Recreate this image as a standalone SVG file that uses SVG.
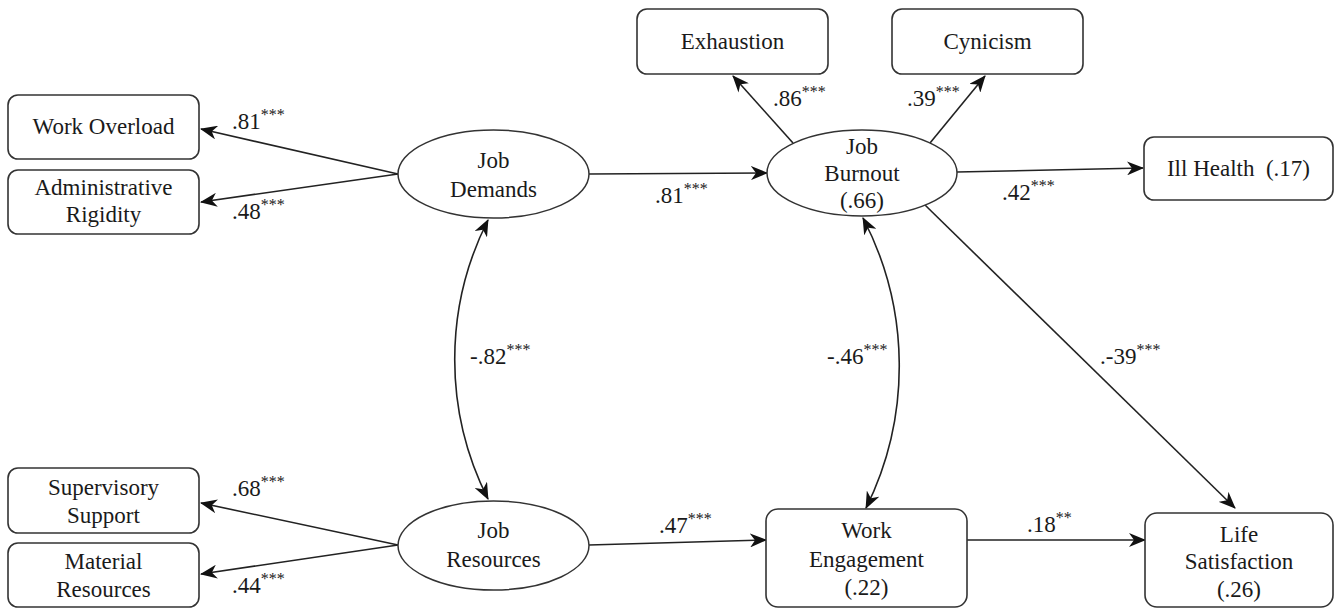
<svg xmlns="http://www.w3.org/2000/svg" width="1336" height="609" viewBox="0 0 1336 609">
<style>
.box{fill:#fff;stroke:#333;stroke-width:1.6}
.ell{fill:#fff;stroke:#333;stroke-width:1.5}
text{font-family:Liberation Serif, Times New Roman, DejaVu Serif, serif;font-size:23px;fill:#1a1a1a}
.t{text-anchor:middle}
.sup{font-size:16px}
.c{fill:none;stroke:#222;stroke-width:1.6;marker-end:url(#ah)}
.cb{fill:none;stroke:#222;stroke-width:1.6;marker-end:url(#ah);marker-start:url(#ah)}
</style>
<defs>
<marker id="ah" viewBox="0 0 17 14" refX="16" refY="7" markerWidth="17" markerHeight="14" markerUnits="userSpaceOnUse" orient="auto-start-reverse">
<path d="M0,0 L17,7 L0,14 L5,7 Z" fill="#111"/>
</marker>
</defs>
<rect width="1336" height="609" fill="#fff"/>
<g id="connectors">
<path class="c" d="M398,174 L201,129"/>
<path class="c" d="M398,174 L201,202"/>
<path class="c" d="M398,545 L201,503"/>
<path class="c" d="M398,545 L201,574"/>
<path class="c" d="M589,174 L767,173"/>
<path class="c" d="M793,143 L733,76"/>
<path class="c" d="M930,143 L985,76"/>
<path class="c" d="M957,172 L1143,168"/>
<path class="c" d="M925,205 L1235,508"/>
<path class="c" d="M589,545 L766,540"/>
<path class="c" d="M967,540 L1145,540"/>
<path class="cb" d="M488,220 A309,309 0 0 0 488,499"/>
<path class="cb" d="M863,218 A320,320 0 0 1 866,508"/>
<text font-family="Liberation Serif" x="232" y="129">.81<tspan class="sup" dy="-9">***</tspan></text>
<text font-family="Liberation Serif" x="232" y="219">.48<tspan class="sup" dy="-9">***</tspan></text>
<text font-family="Liberation Serif" x="232" y="496">.68<tspan class="sup" dy="-9">***</tspan></text>
<text font-family="Liberation Serif" x="232" y="593">.44<tspan class="sup" dy="-9">***</tspan></text>
<text font-family="Liberation Serif" x="655" y="203">.81<tspan class="sup" dy="-9">***</tspan></text>
<text font-family="Liberation Serif" x="773" y="106">.86<tspan class="sup" dy="-9">***</tspan></text>
<text font-family="Liberation Serif" x="907" y="106">.39<tspan class="sup" dy="-9">***</tspan></text>
<text font-family="Liberation Serif" x="1002" y="200">.42<tspan class="sup" dy="-9">***</tspan></text>
<text font-family="Liberation Serif" x="470" y="364">-.82<tspan class="sup" dy="-9">***</tspan></text>
<text font-family="Liberation Serif" x="827" y="364">-.46<tspan class="sup" dy="-9">***</tspan></text>
<text font-family="Liberation Serif" x="1100" y="364">.-39<tspan class="sup" dy="-9">***</tspan></text>
<text font-family="Liberation Serif" x="659" y="533">.47<tspan class="sup" dy="-9">***</tspan></text>
<text font-family="Liberation Serif" x="1027" y="532">.18<tspan class="sup" dy="-9">**</tspan></text>
</g>
<g id="work-overload">
<rect class="box" x="8" y="95" width="191" height="64" rx="10"/>
<text class="t" x="103.5" y="134">Work Overload</text>
</g>
<g id="administrative-rigidity">
<rect class="box" x="8" y="170" width="191" height="64" rx="10"/>
<text class="t" x="103.5" y="195">Administrative</text>
<text class="t" x="103.5" y="222">Rigidity</text>
</g>
<g id="supervisory-support">
<rect class="box" x="8" y="468" width="191" height="65" rx="10"/>
<text class="t" x="103.5" y="495">Supervisory</text>
<text class="t" x="103.5" y="523">Support</text>
</g>
<g id="material-resources">
<rect class="box" x="8" y="543" width="191" height="64" rx="10"/>
<text class="t" x="103.5" y="569">Material</text>
<text class="t" x="103.5" y="597">Resources</text>
</g>
<g id="job-demands">
<ellipse class="ell" cx="493.5" cy="174" rx="95.5" ry="44"/>
<text class="t" x="493.5" y="168">Job</text>
<text class="t" x="493.5" y="197">Demands</text>
</g>
<g id="job-resources">
<ellipse class="ell" cx="493.5" cy="545.5" rx="95.5" ry="44.5"/>
<text class="t" x="493.5" y="538">Job</text>
<text class="t" x="493.5" y="567">Resources</text>
</g>
<g id="exhaustion">
<rect class="box" x="637" y="9" width="191" height="65" rx="10"/>
<text class="t" x="732.5" y="49">Exhaustion</text>
</g>
<g id="cynicism">
<rect class="box" x="892" y="9" width="191" height="65" rx="10"/>
<text class="t" x="987.5" y="49">Cynicism</text>
</g>
<g id="job-burnout">
<ellipse class="ell" cx="862" cy="173" rx="95" ry="43"/>
<text class="t" x="862" y="154">Job</text>
<text class="t" x="862" y="181">Burnout</text>
<text class="t" x="862" y="208">(.66)</text>
</g>
<g id="ill-health">
<rect class="box" x="1144" y="137" width="189" height="63" rx="10"/>
<text class="t" x="1238.5" y="176" xml:space="preserve">Ill Health  (.17)</text>
</g>
<g id="work-engagement">
<rect class="box" x="766" y="509" width="201" height="98" rx="12"/>
<text class="t" x="866.5" y="538">Work</text>
<text class="t" x="866.5" y="567">Engagement</text>
<text class="t" x="866.5" y="595">(.22)</text>
</g>
<g id="life-satisfaction">
<rect class="box" x="1145" y="513" width="188" height="94" rx="12"/>
<text class="t" x="1239" y="542">Life</text>
<text class="t" x="1239" y="569">Satisfaction</text>
<text class="t" x="1239" y="597">(.26)</text>
</g>
</svg>
